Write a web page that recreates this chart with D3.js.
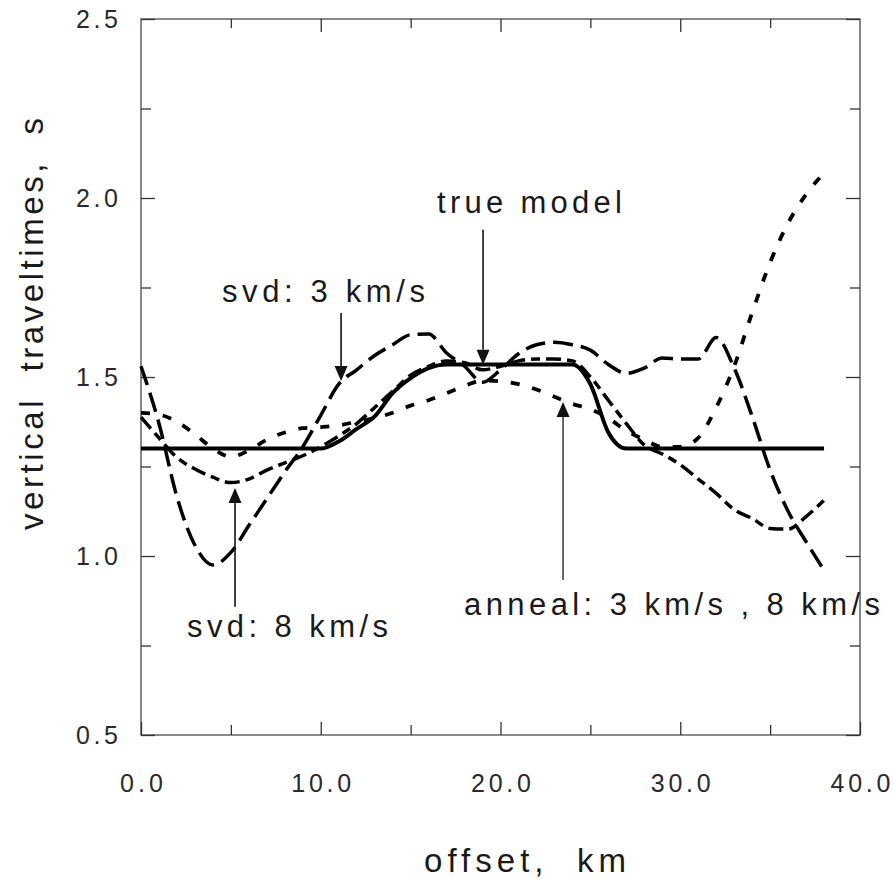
<!DOCTYPE html>
<html><head><meta charset="utf-8">
<script src="https://cdn.jsdelivr.net/npm/d3@7"></script>
<style>html,body{margin:0;padding:0;background:#fff} svg{display:block} text{white-space:pre}</style>
</head><body>
<svg id="chart" width="893" height="879"></svg>
<script>
// ---------------- data ----------------
const offsets = [0,1,2,3,4,5,6,7,8,9,10,11,12,13,14,15,16,17,18,19,20,21,22,23,24,25,26,27,28,29,30,31,32,33,34,35,36,37,38];
const trueModel = [1.30,1.30,1.30,1.30,1.30,1.30,1.30,1.30,1.30,1.30,1.30,1.32,1.355,1.39,1.455,1.497,1.525,1.535,1.535,1.535,1.535,1.535,1.535,1.535,1.535,1.48,1.345,1.30,1.30,1.30,1.30,1.30,1.30,1.30,1.30,1.30,1.30,1.30,1.30];
const svd3 = [1.53,1.37,1.165,1.03,0.975,1.01,1.085,1.16,1.235,1.305,1.393,1.48,1.52,1.56,1.59,1.618,1.62,1.567,1.53,1.485,1.52,1.565,1.59,1.597,1.59,1.575,1.535,1.51,1.525,1.553,1.55,1.55,1.61,1.525,1.39,1.24,1.125,1.04,0.96];
const svd8 = [1.388,1.33,1.275,1.243,1.22,1.205,1.215,1.24,1.26,1.28,1.305,1.335,1.37,1.415,1.46,1.505,1.53,1.545,1.54,1.52,1.53,1.545,1.55,1.55,1.545,1.50,1.435,1.37,1.31,1.285,1.255,1.215,1.175,1.13,1.105,1.077,1.075,1.11,1.156];
const anneal = [1.40,1.395,1.375,1.34,1.30,1.277,1.295,1.325,1.345,1.357,1.36,1.365,1.375,1.385,1.40,1.42,1.435,1.455,1.475,1.49,1.488,1.48,1.465,1.445,1.425,1.41,1.385,1.35,1.325,1.305,1.305,1.33,1.415,1.53,1.68,1.82,1.93,2.01,2.07];

const xTicks = [0,10,20,30,40];
const xTickLabels = ["0.0","10.0","20.0","30.0","40.0"];
const xMinorTicks = [5,15,25,35];
const yTicks = [0.5,1.0,1.5,2.0,2.5];
const yTickLabels = ["0.5","1.0","1.5","2.0","2.5"];
const yMinorTicks = [0.75,1.25,1.75,2.25];

const xTitle = "offset,  km";
const yTitle = "vertical  traveltimes,  s";

// annotation labels and arrows (arrow positions in data units: offset km, traveltime s)
const noteTexts = ["true model","svd: 3 km/s","svd: 8 km/s","anneal: 3 km/s , 8 km/s"];
const arrowX    = [19.03, 11.13, 5.23, 23.48];
const arrowTail = [1.911, 1.679, 0.858, 0.933];
const arrowTip  = [1.534, 1.489, 1.19, 1.43];

// ---------------- layout ----------------
const W = 893, H = 879;
const M = {left:141, right:860, top:19, bottom:735};
const FONT = "'Liberation Sans', Arial, Helvetica, sans-serif";
const INK = "#1a1a1a";

const svg = d3.select("#chart");
svg.append("rect").attr("width",W).attr("height",H).attr("fill","#fff");

const x = d3.scaleLinear().domain([0,40]).range([M.left, M.right]);
const y = d3.scaleLinear().domain([0.5,2.5]).range([M.bottom, M.top]);

// frame
svg.append("rect")
  .attr("x",M.left).attr("y",M.top)
  .attr("width",M.right-M.left).attr("height",M.bottom-M.top)
  .attr("fill","none").attr("stroke","#4a4a4a").attr("stroke-width",1.3);

function styleTicks(g){
  g.select(".domain").remove();
  g.selectAll(".tick line").attr("stroke","#333").attr("stroke-width",1.3);
}
function styleLabels(g, lenFn){
  g.selectAll(".tick text")
    .attr("font-family",FONT).attr("font-size",25).attr("fill","#2a2a2a")
    .attr("lengthAdjust","spacing")
    .attr("textLength",d=>lenFn(d));
}

// left axis (labels + inward ticks)
svg.append("g").attr("transform",`translate(${M.left},0)`)
  .call(d3.axisLeft(y).tickValues(yTicks).tickFormat((d,i)=>yTickLabels[i])
        .tickSizeInner(-14).tickSizeOuter(0).tickPadding(23))
  .call(styleTicks).call(g=>styleLabels(g,()=>42));
svg.append("g").attr("transform",`translate(${M.left},0)`)
  .call(d3.axisLeft(y).tickValues(yMinorTicks).tickFormat("").tickSizeInner(-10).tickSizeOuter(0))
  .call(styleTicks);
// right axis ticks
svg.append("g").attr("transform",`translate(${M.right},0)`)
  .call(d3.axisRight(y).tickValues(yTicks).tickFormat("").tickSizeInner(-14).tickSizeOuter(0))
  .call(styleTicks);
svg.append("g").attr("transform",`translate(${M.right},0)`)
  .call(d3.axisRight(y).tickValues(yMinorTicks).tickFormat("").tickSizeInner(-10).tickSizeOuter(0))
  .call(styleTicks);
// bottom axis
svg.append("g").attr("transform",`translate(0,${M.bottom})`)
  .call(d3.axisBottom(x).tickValues(xTicks).tickFormat((d,i)=>xTickLabels[i])
        .tickSizeInner(-13).tickSizeOuter(0).tickPadding(39))
  .call(styleTicks).call(g=>styleLabels(g,d=>d===0?43:60));
svg.append("g").attr("transform",`translate(0,${M.bottom})`)
  .call(d3.axisBottom(x).tickValues(xMinorTicks).tickFormat("").tickSizeInner(-10).tickSizeOuter(0))
  .call(styleTicks);
// top axis ticks
svg.append("g").attr("transform",`translate(0,${M.top})`)
  .call(d3.axisTop(x).tickValues(xTicks.slice(1,4)).tickFormat("").tickSizeInner(-13).tickSizeOuter(0))
  .call(styleTicks);
svg.append("g").attr("transform",`translate(0,${M.top})`)
  .call(d3.axisTop(x).tickValues(xMinorTicks).tickFormat("").tickSizeInner(-9).tickSizeOuter(0))
  .call(styleTicks);

// axis titles
svg.append("text").text(xTitle)
  .attr("x",424).attr("y",872)
  .attr("font-family",FONT).attr("font-size",33).attr("fill",INK)
  .attr("xml:space","preserve").style("white-space","pre")
  .attr("textLength",202).attr("lengthAdjust","spacing");
svg.append("text").text(yTitle)
  .attr("transform","translate(43,530) rotate(-90)")
  .attr("font-family",FONT).attr("font-size",33).attr("fill",INK)
  .attr("xml:space","preserve").style("white-space","pre")
  .attr("textLength",412).attr("lengthAdjust","spacing");

// ---------------- curves ----------------
const line = d3.line().x((d,i)=>x(offsets[i])).y(d=>y(d)).curve(d3.curveMonotoneX);
const series = [
  {vals: trueModel, dash: null,          w: 4},
  {vals: svd8,      dash: "15,6,9,6",    w: 3.5},
  {vals: anneal,    dash: "9,13",        w: 3.8},
  {vals: svd3,      dash: "20,8",        w: 3.5}
];
svg.append("g").selectAll("path").data(series).join("path")
  .attr("d",s=>line(s.vals))
  .attr("fill","none").attr("stroke","#000")
  .attr("stroke-width",s=>s.w)
  .attr("stroke-dasharray",s=>s.dash)
  .attr("stroke-linejoin","round");

// ---------------- annotations ----------------
const notePos = [
  {x:437, y:213, len:185},
  {x:222, y:302, len:203},
  {x:187, y:637, len:201},
  {x:464, y:615, len:416}
];
svg.append("g").selectAll("text").data(noteTexts).join("text")
  .text(d=>d)
  .attr("x",(d,i)=>notePos[i].x).attr("y",(d,i)=>notePos[i].y)
  .attr("font-family",FONT).attr("font-size",31).attr("fill",INK)
  .attr("textLength",(d,i)=>notePos[i].len).attr("lengthAdjust","spacing");

const arrows = arrowX.map((ax,i)=>({x:x(ax), y0:y(arrowTail[i]), y1:y(arrowTip[i])}));
const ag = svg.append("g");
arrows.forEach((a,i)=>{
  const dir = a.y1 > a.y0 ? 1 : -1;
  const headLen = 15, headHalf = 6.5;
  ag.append("line")
    .attr("x1",a.x).attr("x2",a.x)
    .attr("y1",a.y0).attr("y2",a.y1 - dir*headLen)
    .attr("stroke", i===3 ? "#444" : "#111").attr("stroke-width",1.6);
  ag.append("path")
    .attr("d",`M${a.x},${a.y1} L${a.x-headHalf},${a.y1-dir*headLen} L${a.x+headHalf},${a.y1-dir*headLen} Z`)
    .attr("fill","#111");
});
</script>
</body></html>
